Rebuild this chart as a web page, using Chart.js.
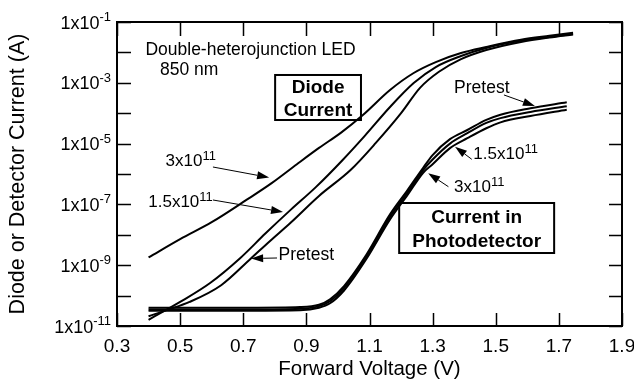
<!DOCTYPE html>
<html>
<head>
<meta charset="utf-8">
<script src="https://cdn.jsdelivr.net/npm/chart.js@4.4.1/dist/chart.umd.min.js"></script>
<style>
  html, body { margin: 0; padding: 0; background: #fff; }
  #wrap { width: 634px; height: 383px; position: relative; }
</style>
</head>
<body>
<div id="wrap"><canvas id="chart"></canvas></div>
<script>
// diode current, 3x10^11 fluence
const diode3V = [0.40, 0.50, 0.60, 0.71, 0.79, 0.87, 0.94, 1.01, 1.08, 1.165, 1.24, 1.31, 1.39, 1.47, 1.58, 1.67, 1.745];
const diode3I = [1.8e-9, 7.2e-9, 2.6e-8, 1.4e-7, 5.0e-7, 2.1e-6, 7.2e-6, 2.3e-5, 8.9e-5, 5.8e-4, 2.1e-3, 4.8e-3, 9.5e-3, 1.5e-2, 2.6e-2, 3.5e-2, 4.4e-2];
// diode current, 1.5x10^11
const diode15V = [0.40, 0.46, 0.50, 0.595, 0.69, 0.77, 0.85, 0.93, 1.015, 1.085, 1.165, 1.24, 1.31, 1.39, 1.47, 1.58, 1.67, 1.745];
const diode15I = [1.6e-11, 3.6e-11, 6.2e-11, 2.6e-10, 1.7e-9, 1.1e-8, 6.6e-8, 3.7e-7, 2.9e-6, 1.8e-5, 1.6e-4, 9.8e-4, 3.3e-3, 7.6e-3, 1.4e-2, 2.4e-2, 3.2e-2, 4.0e-2];
// diode current, pretest
const diodePreV = [0.40, 0.46, 0.53, 0.63, 0.725, 0.785, 0.85, 0.94, 1.04, 1.12, 1.20, 1.26, 1.32, 1.39, 1.47, 1.58, 1.67, 1.745];
const diodePreI = [2.1e-11, 3.4e-11, 6.2e-11, 2.2e-10, 1.7e-9, 6.3e-9, 2.5e-8, 1.9e-7, 1.35e-6, 1.05e-5, 1.0e-4, 6.8e-4, 2.3e-3, 6.0e-3, 1.2e-2, 2.2e-2, 3.1e-2, 3.9e-2];

// photodetector current
const pdV = [0.40, 0.56, 0.72, 0.88, 0.94, 0.975, 1.02, 1.09, 1.165, 1.22, 1.27, 1.30, 1.355, 1.41, 1.47, 1.515, 1.61, 1.725];
const pdPreI = [4.0e-11, 4.0e-11, 4.0e-11, 4.2e-11, 5.0e-11, 7.6e-11, 2.1e-10, 2.2e-9, 4.7e-8, 2.9e-7, 1.6e-6, 4.2e-6, 1.4e-5, 2.8e-5, 6.0e-5, 8.9e-5, 1.45e-4, 2.3e-4];
const pd15I = [3.5e-11, 3.5e-11, 3.5e-11, 3.7e-11, 4.5e-11, 6.6e-11, 1.8e-10, 1.9e-9, 3.9e-8, 2.4e-7, 1.35e-6, 3.0e-6, 1.0e-5, 2.2e-5, 4.8e-5, 6.9e-5, 1.1e-4, 1.7e-4];
const pd3I = [3.2e-11, 3.2e-11, 3.2e-11, 3.3e-11, 4.0e-11, 5.6e-11, 1.5e-10, 1.6e-9, 3.2e-8, 2.0e-7, 1.1e-6, 2.1e-6, 7.1e-6, 1.5e-5, 3.2e-5, 5.0e-5, 8.1e-5, 1.3e-4];

const xTicks = [0.3, 0.5, 0.7, 0.9, 1.1, 1.3, 1.5, 1.7, 1.9];
const yTickExps = [-11, -10, -9, -8, -7, -6, -5, -4, -3, -2, -1];
const yLabelExps = [-11, -9, -7, -5, -3, -1];

const FONT = '"Liberation Sans", Arial, Helvetica, sans-serif';
Chart.defaults.font.family = FONT;
Chart.defaults.color = '#000';

function pts(xs, ys) {
  return xs.map((x, i) => ({ x: x, y: ys[i] }));
}

function curve(xs, ys) {
  return {
    data: pts(xs, ys),
    showLine: true,
    borderColor: '#000',
    borderWidth: 2,
    pointRadius: 0,
    fill: false,
    cubicInterpolationMode: 'monotone'
  };
}

// annotation anchors are (volts, log10 of amps)
const notes = [
  { text: 'Double-heterojunction LED', v: 0.39, e: -2.09 },
  { text: '850 nm', v: 0.436, e: -2.74 },
  { text: 'Pretest', v: 0.812, e: -8.83 },
  { text: 'Pretest', v: 1.368, e: -3.32 }
];
const powNotes = [
  { base: '3x10', sup: '11', v: 0.454, e: -5.74 },
  { base: '1.5x10', sup: '11', v: 0.399, e: -7.10 },
  { base: '1.5x10', sup: '11', v: 1.429, e: -5.52 },
  { base: '3x10', sup: '11', v: 1.368, e: -6.58 }
];
const arrows = [
  { from: [0.604, -5.77], to: [0.782, -6.115] },
  { from: [0.604, -6.855], to: [0.826, -7.25] },
  { from: [0.807, -8.763], to: [0.725, -8.78] },
  { from: [1.526, -3.40], to: [1.624, -3.763] },
  { from: [1.424, -5.516], to: [1.371, -5.102] },
  { from: [1.350, -6.418], to: [1.286, -5.977] }
];
const boxes = [
  { lines: ['Diode', 'Current'], v0: 0.801, v1: 1.073, e0: -2.743, e1: -4.224, base: [-3.32, -4.09] },
  { lines: ['Current in', 'Photodetector'], v0: 1.194, v1: 1.685, e0: -6.954, e1: -8.599, base: [-7.62, -8.41] }
];

function drawPow(ctx, base, sup, x, y, size, supSize, rise, alignRight) {
  ctx.font = size + 'px ' + FONT;
  const w1 = ctx.measureText(base).width;
  ctx.font = supSize + 'px ' + FONT;
  const w2 = ctx.measureText(sup).width;
  const x0 = alignRight ? x - w1 - w2 : x;
  ctx.textAlign = 'left';
  ctx.textBaseline = 'alphabetic';
  ctx.font = size + 'px ' + FONT;
  ctx.fillText(base, x0, y);
  ctx.font = supSize + 'px ' + FONT;
  ctx.fillText(sup, x0 + w1, y - rise);
}

function drawArrow(ctx, x1, y1, x2, y2) {
  const a = Math.atan2(y2 - y1, x2 - x1);
  const len = 12, hw = 4;
  const c = Math.cos(a), s = Math.sin(a);
  ctx.lineWidth = 1;
  ctx.beginPath();
  ctx.moveTo(x1, y1);
  ctx.lineTo(x2 - len * c, y2 - len * s);
  ctx.stroke();
  ctx.beginPath();
  ctx.moveTo(x2, y2);
  ctx.lineTo(x2 - len * c + hw * s, y2 - len * s - hw * c);
  ctx.lineTo(x2 - len * c - hw * s, y2 - len * s + hw * c);
  ctx.closePath();
  ctx.fill();
}

const decor = {
  id: 'decor',
  afterDraw(chart) {
    const ctx = chart.ctx;
    const a = chart.chartArea;
    const xs = chart.scales.x, ys = chart.scales.y;
    const X = v => xs.getPixelForValue(v);
    const Y = e => ys.getPixelForValue(Math.pow(10, e));
    ctx.save();
    ctx.strokeStyle = '#000';
    ctx.fillStyle = '#000';

    // inside tick marks on all four sides
    ctx.lineWidth = 1.5;
    ctx.beginPath();
    xs.ticks.forEach(t => {
      const px = Math.round(X(t.value)) + 0.5;
      ctx.moveTo(px, a.bottom); ctx.lineTo(px, a.bottom - 13);
      ctx.moveTo(px, a.top); ctx.lineTo(px, a.top + 14);
    });
    ys.ticks.forEach(t => {
      const py = Math.round(ys.getPixelForValue(t.value)) + 0.5;
      ctx.moveTo(a.left, py); ctx.lineTo(a.left + 14, py);
      ctx.moveTo(a.right, py); ctx.lineTo(a.right - 13, py);
    });
    ctx.stroke();

    // frame
    ctx.lineWidth = 2;
    ctx.strokeRect(a.left, a.top, a.right - a.left, a.bottom - a.top);

    // y tick labels with superscripts
    yLabelExps.forEach(e => {
      const py = Y(e);
      drawPow(ctx, '1x10', String(e), a.left - 6, py + 6.5, 18, 13, 7.5, true);
    });

    // plain notes
    ctx.textAlign = 'left';
    ctx.textBaseline = 'alphabetic';
    ctx.font = '17.5px ' + FONT;
    notes.forEach(n => ctx.fillText(n.text, X(n.v), Y(n.e)));

    powNotes.forEach(n => drawPow(ctx, n.base, n.sup, X(n.v), Y(n.e), 17, 13, 6, false));

    arrows.forEach(r => drawArrow(ctx, X(r.from[0]), Y(r.from[1]), X(r.to[0]), Y(r.to[1])));

    // boxed labels
    boxes.forEach(b => {
      const x0 = X(b.v0), x1 = X(b.v1), y0 = Y(b.e0), y1 = Y(b.e1);
      ctx.lineWidth = 2;
      ctx.strokeRect(x0, y0, x1 - x0, y1 - y0);
      ctx.font = 'bold 19px ' + FONT;
      ctx.textAlign = 'center';
      b.lines.forEach((s, i) => ctx.fillText(s, (x0 + x1) / 2, Y(b.base[i])));
    });
    ctx.restore();
  }
};

new Chart(document.getElementById('chart'), {
  type: 'scatter',
  data: {
    datasets: [
      curve(diode3V, diode3I),
      curve(diode15V, diode15I),
      curve(diodePreV, diodePreI),
      curve(pdV, pdPreI),
      curve(pdV, pd15I),
      curve(pdV, pd3I)
    ]
  },
  options: {
    responsive: true,
    maintainAspectRatio: false,
    devicePixelRatio: 1,
    animation: false,
    layout: { padding: { top: 22, right: 12, left: 0, bottom: 0 } },
    plugins: { legend: { display: false }, tooltip: { enabled: false } },
    scales: {
      x: {
        type: 'linear',
        min: 0.3,
        max: 1.9,
        afterBuildTicks: s => { s.ticks = xTicks.map(v => ({ value: v })); },
        afterFit: s => { s.height = 57; s.paddingLeft = 0; s.paddingRight = 0; },
        grid: { display: false },
        border: { display: false },
        ticks: {
          autoSkip: false,
          maxRotation: 0,
          padding: 1,
          font: { size: 19 },
          color: '#000',
          callback: v => Number(v).toFixed(1)
        },
        title: {
          display: true,
          text: 'Forward Voltage (V)',
          font: { size: 20.5 },
          color: '#000',
          padding: { top: 0, bottom: 1 }
        }
      },
      y: {
        type: 'logarithmic',
        min: 1e-11,
        max: 1e-1,
        afterBuildTicks: s => { s.ticks = yTickExps.map(e => ({ value: Math.pow(10, e) })); },
        afterFit: s => { s.width = 117; s.paddingTop = 0; s.paddingBottom = 0; },
        grid: { display: false },
        border: { display: false },
        ticks: { display: false },
        title: {
          display: true,
          text: 'Diode or Detector Current (A)',
          font: { size: 21.5 },
          color: '#000',
          padding: { top: 5, bottom: 0 }
        }
      }
    }
  },
  plugins: [decor]
});
</script>
</body>
</html>
